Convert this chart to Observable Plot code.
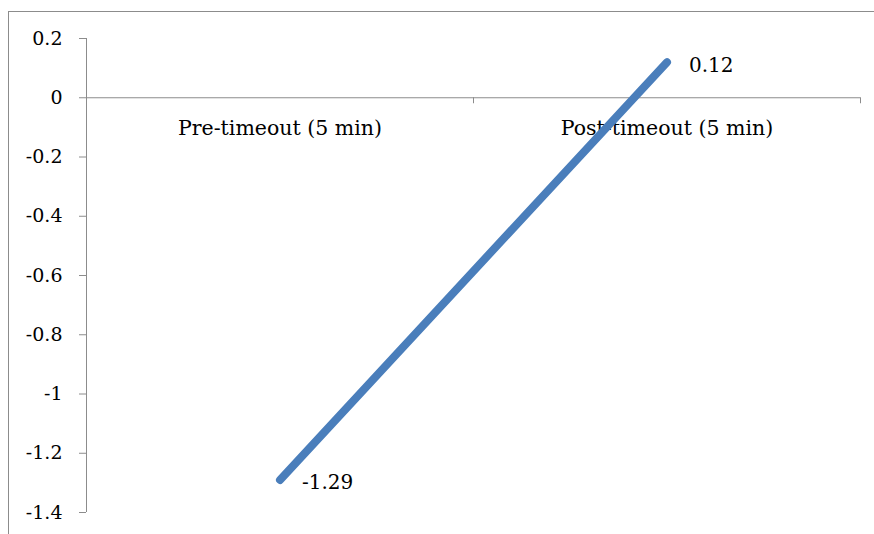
<!DOCTYPE html>
<html>
<head>
<meta charset="utf-8">
<script src="https://cdn.jsdelivr.net/npm/d3@7"></script>
<script src="https://cdn.jsdelivr.net/npm/@observablehq/plot@0.6"></script>
<style>
  html, body { margin: 0; padding: 0; background: #fff; overflow: hidden; }
  #wrap { position: relative; width: 874px; height: 534px; }
  #border { position: absolute; left: 8px; top: 11px; width: 900px; height: 600px; border: 1px solid #8c8c8c; pointer-events: none; }
</style>
</head>
<body>
<div id="wrap"><div id="border"></div></div>
<script>
const categories = ["Pre-timeout (5 min)", "Post-timeout (5 min)"];
const values = [-1.29, 0.12];
const valueLabels = ["-1.29", "0.12"];
const yTicks = [0.2, 0, -0.2, -0.4, -0.6, -0.8, -1, -1.2, -1.4];

const data = categories.map((c, i) => ({cat: c, pos: i + 0.5, value: values[i], label: valueLabels[i]}));
const bounds = d3.range(categories.length + 1);

const font = "DejaVu Serif";
const chart = Plot.plot({
  width: 874,
  height: 534,
  marginLeft: 86,
  marginRight: 14,
  marginTop: 38,
  marginBottom: 22,
  style: {fontFamily: font, fontSize: "20px", color: "#000", background: "transparent", overflow: "visible"},
  x: {domain: [0, categories.length], axis: null},
  y: {domain: [-1.4, 0.2], axis: null},
  marks: [
    Plot.axisY({ticks: yTicks, tickSize: 7, tickPadding: 17, stroke: "#8c8c8c", label: null,
      tickFormat: d => String(+d.toFixed(1)), fontSize: 19, fill: "#000"}),
    Plot.ruleX([0], {stroke: "#8c8c8c"}),
    Plot.ruleY([0], {stroke: "#8c8c8c"}),
    Plot.ruleX(bounds, {y1: 0, y2: 0, insetBottom: -6, stroke: "#8c8c8c"}),
    Plot.text(data, {x: "pos", y: 0, text: "cat", dy: 31, fontSize: 20.5, fill: "#000"}),
    Plot.line(data, {x: "pos", y: "value", stroke: "#4a7ebb", strokeWidth: 8, strokeLinecap: "round"}),
    Plot.text(data, {x: "pos", y: "value", text: "label", textAnchor: "start", dx: 22, dy: 3, fontSize: 20, fill: "#000"})
  ]
});
chart.style.position = "absolute";
chart.style.left = "0px";
chart.style.top = "0px";
document.getElementById("wrap").appendChild(chart);
</script>
</body>
</html>
